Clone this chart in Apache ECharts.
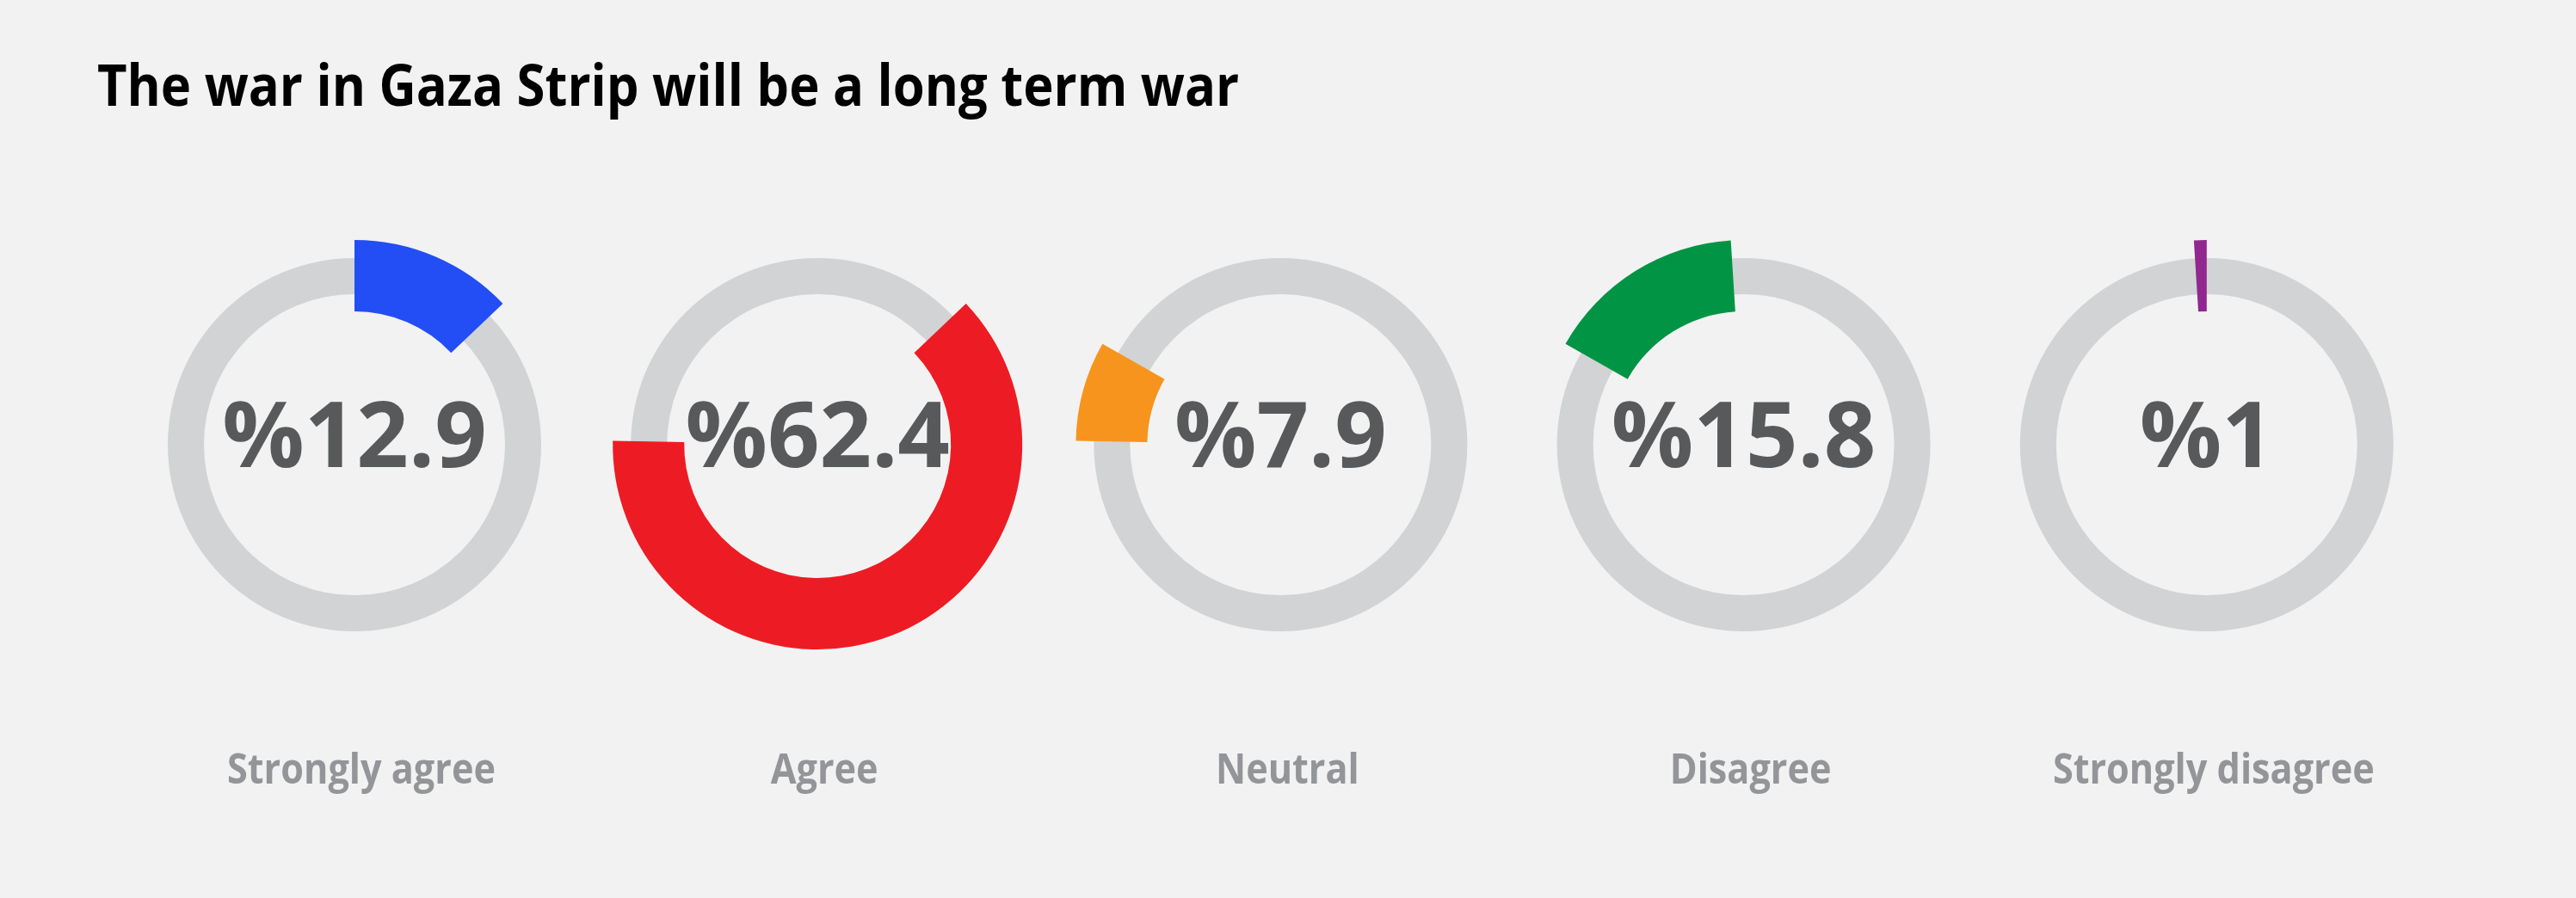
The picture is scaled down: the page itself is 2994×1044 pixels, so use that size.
<!DOCTYPE html>
<html>
<head>
<meta charset="utf-8">
<script src="https://cdn.jsdelivr.net/npm/echarts@6/dist/echarts.min.js"></script>
<style>
  html, body { margin: 0; padding: 0; background: #f2f2f2; }
  #chart { width: 2994px; height: 1044px; }
</style>
</head>
<body>
<div id="chart"></div>
<script>
// survey answers
const categories = ['Strongly agree', 'Agree', 'Neutral', 'Disagree', 'Strongly disagree']
const values = [12.9, 62.4, 7.9, 15.8, 1]
const valueLabels = ['12.9', '62.4', '7.9', '15.8', '1']
const colors = ['#234ef5', '#ed1c24', '#f7941d', '#009444', '#92278f']
const titleText = 'The war in Gaza Strip will be a long term war'

const chart = echarts.init(document.getElementById('chart'))

// layout
const centerY = 517
const firstX = 412
const stepX = 538.2
const total = values.reduce((a, b) => a + b, 0)

const series = []
const graphic = []
let offset = 0

categories.forEach((name, i) => {
  const cx = firstX + stepX * i
  // grey track
  series.push({
    type: 'pie',
    silent: true,
    center: [cx, centerY],
    radius: [175, 217],
    startAngle: 90,
    label: { show: false },
    labelLine: { show: false },
    itemStyle: { color: '#d1d3d4' },
    data: [{ value: 1 }],
  })
  // coloured share, drawn after the previous answers
  series.push({
    type: 'pie',
    silent: true,
    center: [cx, centerY],
    radius: [155, 238],
    startAngle: 90,
    clockwise: true,
    label: { show: false },
    labelLine: { show: false },
    data: [
      { value: offset, itemStyle: { color: 'transparent' } },
      { value: values[i], itemStyle: { color: colors[i] } },
      { value: total - offset - values[i], itemStyle: { color: 'transparent' } },
    ],
  })
  offset += values[i]

  graphic.push({
    type: 'text',
    x: cx,
    y: 513,
    silent: true,
    style: {
      text: '%' + valueLabels[i],
      fontFamily: 'Open Sans',
      fontWeight: 'bold',
      fontSize: 106,
      fill: '#58595b',
      align: 'center',
      verticalAlign: 'middle',
    },
  })
  graphic.push({
    type: 'text',
    x: cx + 8,
    y: 897,
    scaleX: 0.9,
    silent: true,
    style: {
      text: name,
      fontFamily: 'Open Sans',
      fontWeight: 'bold',
      fontSize: 48,
      fill: '#939598',
      align: 'center',
      verticalAlign: 'middle',
    },
  })
})

graphic.push({
  type: 'text',
  x: 113,
  y: 104,
  scaleX: 0.905,
  silent: true,
  style: {
    text: titleText,
    fontFamily: 'Open Sans',
    fontWeight: 'bold',
    fontSize: 66,
    fill: '#000000',
    align: 'left',
    verticalAlign: 'middle',
  },
})

chart.setOption({
  backgroundColor: '#f2f2f2',
  animation: false,
  series,
  graphic,
})

window.addEventListener('resize', () => {
  chart.resize()
})
</script>
</body>
</html>
